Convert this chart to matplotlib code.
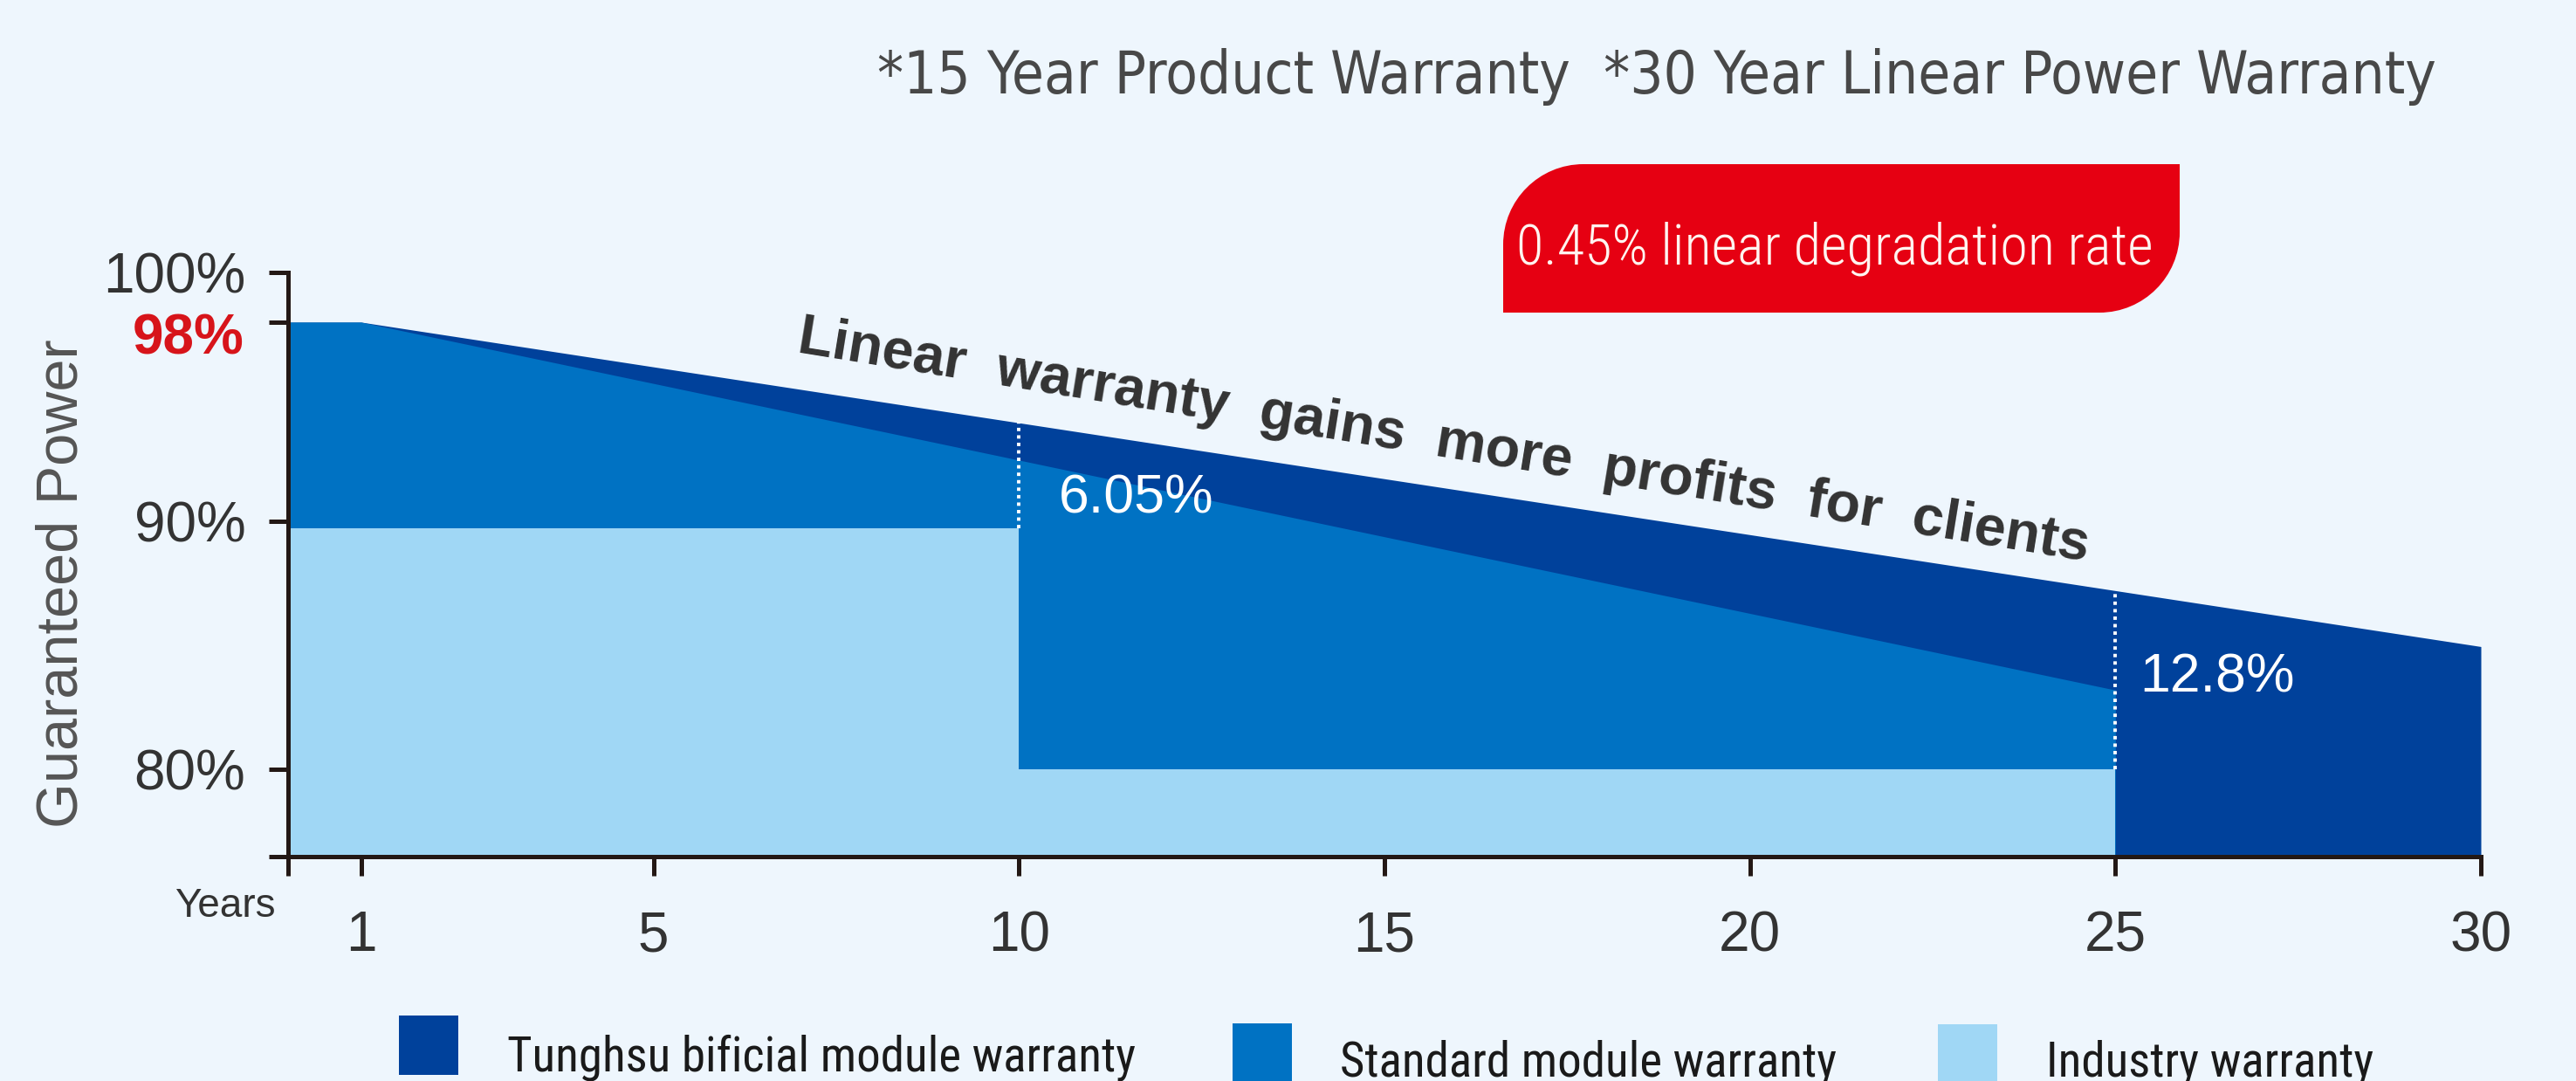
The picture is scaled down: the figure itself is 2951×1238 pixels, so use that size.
import os
import numpy as np
import matplotlib
matplotlib.use('Agg')
import matplotlib.pyplot as plt
from matplotlib import font_manager as fm
from matplotlib.path import Path
from matplotlib.patches import PathPatch, Rectangle

# ---------------- data ----------------
tunghsu_years = [0, 1, 30]
tunghsu_power = [98.0, 98.0, 84.95]
standard_years = [0, 1, 25]
standard_power = [98.0, 98.0, 83.2]
industry_years = [0, 10, 25]
industry_power = [89.7, 80.0, 80.0]
gap_years = [10, 25]
gap_labels = ['6.05%', '12.8%']
series_names = ['Tunghsu bificial module warranty',
                'Standard module warranty',
                'Industry warranty']
x_ticks = [1, 5, 10, 15, 20, 25, 30]
y_ticks = [80, 90, 100]
y_tick_labels = ['80%', '90%', '100%']
highlight_tick = 98
highlight_label = '98%'
title_text = '*15 Year Product Warranty  *30 Year Linear Power Warranty'
rate_text = '0.45% linear degradation rate'
slogan_text = 'Linear  warranty  gains  more  profits  for  clients'

# ---------------- style ----------------
W, H, DPI = 2951, 1238, 100
BG = '#EEF6FD'
C_DARK = '#00419B'
C_MED = '#0072C3'
C_LIGHT = '#A0D7F5'
AX_C = '#231815'
TXT = '#333333'
RED = '#E60012'
Y_MIN, Y_MAX = 76.5, 100

plt.rcParams['font.family'] = ['Liberation Sans', 'DejaVu Sans']


def find_font(keys):
    files = {}
    for f in fm.fontManager.ttflist:
        b = os.path.splitext(os.path.basename(f.fname))[0].lower()
        b = b.replace('-', '').replace('_', '').replace(' ', '')
        files.setdefault(b, f.fname)
    for k in keys:
        if k in files:
            return files[k]
    return None


narrow_file = find_font(['liberationsansnarrowregular', 'liberationsansnarrow',
                         'arialnarrow', 'robotocondensedregular', 'robotocondensed',
                         'notosanscondensed', 'notosanscondensedregular',
                         'opensanscondensedregular', 'dejavusanscondensed'])
narrow_light_file = find_font(['liberationsansnarrowregular', 'liberationsansnarrow',
                               'arialnarrow', 'robotocondensedlight',
                               'robotocondensedregular', 'robotocondensed',
                               'notosanscondensedlight', 'notosanscondensed',
                               'dejavusanscondensed'])
cond_file = find_font(['dejavusanscondensed', 'notosanscondensed',
                       'notosanscondensedregular', 'opensanscondensedregular',
                       'robotocondensedregular', 'liberationsansnarrowregular'])


def fprop(fname, fallback):
    if fname:
        return fm.FontProperties(fname=fname)
    return fm.FontProperties(family=fallback)


fig = plt.figure(figsize=(W / DPI, H / DPI), dpi=DPI, facecolor=BG)
ax = fig.add_axes([330 / W, 1 - 981 / H, (2842 - 330) / W, (981 - 312) / H])
ax.set_facecolor('none')
ax.set_xlim(0, 30)
ax.set_ylim(Y_MIN, Y_MAX)

# areas
f1 = ax.fill_between(tunghsu_years, tunghsu_power, Y_MIN, color=C_DARK, lw=0,
                     zorder=1.0, label=series_names[0])
f2 = ax.fill_between(standard_years, standard_power, Y_MIN, color=C_MED, lw=0,
                     zorder=1.1, label=series_names[1])
f3 = ax.fill_between(industry_years, industry_power, Y_MIN, step='post',
                     color=C_LIGHT, lw=0, zorder=1.2, label=series_names[2])

# gap markers
lows = [industry_power[int(np.searchsorted(industry_years, g, side='left')) - 1]
        for g in gap_years]
highs = list(np.interp(gap_years, tunghsu_years, tunghsu_power))
ax.vlines(gap_years, lows, highs, colors='white', linestyles=(0, (1, 1.2)),
          linewidth=2.8, zorder=3)
gap_offsets = [(46, -103), (28, -116)]  # pixels from top of gap line
for g, hi, lab, (dx, dy) in zip(gap_years, highs, gap_labels, gap_offsets):
    ax.annotate(lab, xy=(g, hi), xytext=(dx * 0.72, dy * 0.72),
                textcoords='offset points', ha='left', va='baseline',
                color='white', fontsize=45, zorder=4)

# axes styling
for s in ['top', 'right']:
    ax.spines[s].set_visible(False)
for s in ['left', 'bottom']:
    ax.spines[s].set_linewidth(3.6)
    ax.spines[s].set_color(AX_C)
    ax.spines[s].set_zorder(2.5)

ax.set_xticks([0] + x_ticks)
ax.set_xticklabels([''] + [str(v) for v in x_ticks])
ax.set_yticks([Y_MIN] + y_ticks + [highlight_tick])
ax.set_yticklabels([''] + y_tick_labels + [''])
ax.tick_params(axis='both', direction='out', length=16, width=3.6, color=AX_C,
               labelsize=46, labelcolor=TXT)
ax.tick_params(axis='x', pad=28)
ax.tick_params(axis='y', pad=19)

ax.annotate(highlight_label, xy=(0, highlight_tick),
            xycoords=('axes fraction', 'data'),
            xytext=(-50 * 0.72, -13 * 0.72), textcoords='offset points',
            ha='right', va='center_baseline', color='#D7141A',
            fontsize=46, fontweight='bold')

ax.set_ylabel('Guaranteed Power', fontsize=48, color='#555555', va='center')
ax.yaxis.set_label_coords((72 - 330) / 2512, (981 - 668) / 669)

fig.text(200 / W, 1 - 1050 / H, 'Years', ha='left', va='baseline',
         fontsize=33, color=TXT)

# slanted slogan (descending with the warranty line)
ax.text(6.95, 96.8, slogan_text, rotation=-9.2, rotation_mode='anchor',
        ha='left', va='baseline', fontsize=46.5, fontweight='bold',
        color='#333333', zorder=5)

# red badge with two rounded corners (pixel geometry -> inches)
L, R, T, B, r = 1722, 2497, H - 188, H - 358, 92
k = 0.5523
verts = [(L, B), (L, T - r),
         (L, T - r + k * r), (L + r - k * r, T), (L + r, T),
         (R, T), (R, B + r),
         (R, B + r - k * r), (R - r + k * r, B), (R - r, B),
         (L, B), (L, B)]
codes = [Path.MOVETO, Path.LINETO,
         Path.CURVE4, Path.CURVE4, Path.CURVE4,
         Path.LINETO, Path.LINETO,
         Path.CURVE4, Path.CURVE4, Path.CURVE4,
         Path.LINETO, Path.CLOSEPOLY]
verts = [(x / DPI, y / DPI) for x, y in verts]
badge = PathPatch(Path(verts, codes), facecolor=RED, edgecolor='none',
                  transform=fig.dpi_scale_trans)
fig.add_artist(badge)

t_rate = fig.text(((L + R) / 2 - 8) / W, 1 - 302 / H, rate_text, ha='center',
                  va='baseline', color='#FFF4F0',
                  fontproperties=fprop(narrow_light_file, 'Liberation Sans'))
t_rate.set_fontsize(40)

t_title = fig.text(1005 / W, 1 - 107 / H, title_text, ha='left', va='baseline',
                   color='#484848',
                   fontproperties=fprop(cond_file, 'DejaVu Sans'))
t_title.set_fontsize(44)

# legend (manual)
sq = [(457, 1163), (1412, 1172), (2220, 1173)]
txt_pos = [(581, 1226), (1535, 1232), (2344, 1232)]
txt_w = [709, 562, 389]
colors = [C_DARK, C_MED, C_LIGHT]
leg_texts = []
for (sx, sy), (tx, ty), c, name in zip(sq, txt_pos, colors, series_names):
    fig.add_artist(Rectangle((sx / DPI, (H - sy - 68) / DPI), 68 / DPI, 68 / DPI,
                             facecolor=c, edgecolor='none',
                             transform=fig.dpi_scale_trans))
    t = fig.text(tx / W, 1 - ty / H, name, ha='left', va='baseline',
                 color='#1A1A1A',
                 fontproperties=fprop(narrow_file, 'Liberation Sans'))
    t.set_fontsize(36)
    leg_texts.append(t)

# fit text widths to the reference
renderer = fig.canvas.get_renderer()


def fit(t, target):
    for _ in range(3):
        w = t.get_window_extent(renderer).width
        t.set_fontsize(t.get_fontsize() * target / w)


fit(t_rate, 730)
fit(t_title, 1785)
for _ in range(3):
    tot = sum(t.get_window_extent(renderer).width for t in leg_texts)
    fac = sum(txt_w) / tot
    for t in leg_texts:
        t.set_fontsize(t.get_fontsize() * fac)

fig.savefig('out.png', dpi=DPI, facecolor=BG)
